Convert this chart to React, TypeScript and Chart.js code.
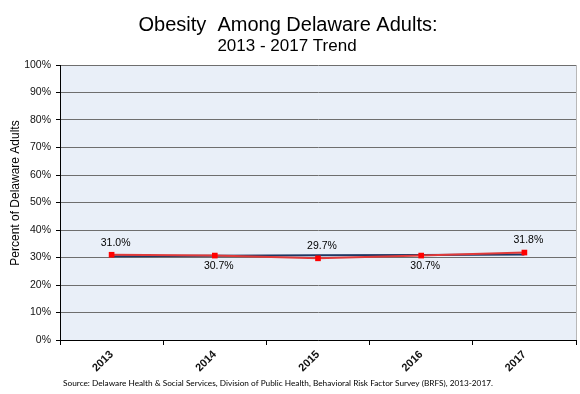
import React, { useEffect, useRef } from "react";
import { Chart, registerables } from "chart.js";

Chart.register(...registerables);

const years = ["2013", "2014", "2015", "2016", "2017"];
const obesityValues = [31.0, 30.7, 29.7, 30.7, 31.8];
const trendValues = [30.46, 30.62, 30.78, 30.94, 31.1];
const valueLabels = ["31.0%", "30.7%", "29.7%", "30.7%", "31.8%"];
const labelSides = ["above", "below", "above", "below", "above"];
const titleText = "Obesity  Among Delaware Adults:";
const subtitleText = "2013 - 2017 Trend";
const yAxisTitle = "Percent of Delaware Adults";
const sourceText =
  "Source: Delaware Health & Social Services, Division of Public Health, Behavioral Risk Factor Survey (BRFS), 2013-2017.";

const ARIAL = "'Liberation Sans', Arial, sans-serif";

const decorPlugin = {
  id: "decor",
  beforeDraw(chart: any) {
    const { ctx, chartArea } = chart;
    ctx.save();
    ctx.fillStyle = "#FFFFFF";
    ctx.fillRect(0, 0, chart.width, chart.height);
    ctx.fillStyle = "#E9EFF8";
    ctx.fillRect(
      chartArea.left,
      chartArea.top,
      chartArea.right - chartArea.left,
      chartArea.bottom - chartArea.top
    );
    ctx.restore();
  },
  afterDraw(chart: any) {
    const { ctx, chartArea } = chart;
    ctx.save();
    ctx.strokeStyle = "#B8B8B8";
    ctx.lineWidth = 1;
    ctx.beginPath();
    ctx.moveTo(chartArea.right + 0.5, chartArea.top);
    ctx.lineTo(chartArea.right + 0.5, chartArea.bottom);
    ctx.stroke();

    ctx.fillStyle = "#000";
    ctx.textAlign = "center";
    ctx.textBaseline = "alphabetic";
    ctx.font = `20px ${ARIAL}`;
    ctx.fillText(titleText, 288, 31);
    ctx.font = `17px ${ARIAL}`;
    ctx.fillText(subtitleText, 287, 51);

    ctx.save();
    ctx.translate(16, 193);
    ctx.rotate(-Math.PI / 2);
    ctx.font = `12px ${ARIAL}`;
    ctx.textBaseline = "middle";
    ctx.fillText(yAxisTitle, 0, 0);
    ctx.restore();

    ctx.font = `9px Lato, 'Open Sans', sans-serif`;
    const w = ctx.measureText(sourceText).width;
    const size = (9 * 430) / w;
    ctx.font = `${size.toFixed(2)}px Lato, 'Open Sans', sans-serif`;
    ctx.textBaseline = "middle";
    ctx.fillText(sourceText, 278, 383);
    ctx.restore();
  },
  afterDatasetsDraw(chart: any) {
    const { ctx } = chart;
    const meta = chart.getDatasetMeta(0);
    ctx.save();
    ctx.fillStyle = "#000";
    ctx.font = `10.5px ${ARIAL}`;
    ctx.textAlign = "center";
    ctx.textBaseline = "middle";
    meta.data.forEach((pt: any, i: number) => {
      const dy = labelSides[i] === "above" ? -12 : 11;
      ctx.fillText(valueLabels[i], pt.x + 4, pt.y + dy);
    });
    ctx.restore();
  },
};

export default function App() {
  const ref = useRef<HTMLCanvasElement>(null);
  useEffect(() => {
    if (!ref.current) return;
    const chart = new Chart(ref.current, {
      type: "line",
      data: {
        labels: years,
        datasets: [
          {
            label: "Obesity",
            data: obesityValues,
            borderColor: "#E03A3A",
            borderWidth: 2,
            pointStyle: "rect",
            pointRadius: 4,
            pointBackgroundColor: "#FF0000",
            pointBorderColor: "#FF0000",
            pointBorderWidth: 0,
            tension: 0,
          },
          {
            label: "Trend",
            data: trendValues,
            borderColor: "#1F3864",
            borderWidth: 2,
            pointRadius: 0,
            tension: 0,
          },
        ],
      },
      options: {
        animation: false,
        responsive: false,
        devicePixelRatio: 1,
        layout: { padding: { left: 0, top: 65, right: 4, bottom: 0 } },
        plugins: {
          legend: { display: false },
          tooltip: { enabled: false },
          title: { display: false },
        },
        scales: {
          x: {
            type: "category",
            offset: true,
            grid: {
              offset: true,
              drawOnChartArea: false,
              drawTicks: true,
              tickLength: 5,
              tickColor: "#000",
            },
            border: { color: "#000", width: 1 },
            ticks: {
              minRotation: 45,
              maxRotation: 45,
              padding: 3,
              color: "#111",
              font: { family: ARIAL, size: 11, weight: "bold" },
            },
            afterFit(scale: any) {
              scale.height = 54;
            },
          },
          y: {
            min: 0,
            max: 100,
            ticks: {
              stepSize: 10,
              padding: 5,
              color: "#111",
              font: { family: ARIAL, size: 10.5 },
              callback: (v: any) => `${v}%`,
            },
            grid: {
              color: "#6E6E6E",
              lineWidth: 1,
              tickLength: 4,
              tickColor: "#000",
            },
            border: { color: "#000", width: 1 },
            afterFit(scale: any) {
              scale.width = 60;
            },
          },
        },
      },
      plugins: [decorPlugin],
    } as any);
    return () => chart.destroy();
  }, []);
  return (
    <div style={{ position: "absolute", left: 0, top: 0, width: 580, height: 394 }}>
      <canvas ref={ref} width={580} height={394} style={{ display: "block" }} />
    </div>
  );
}
